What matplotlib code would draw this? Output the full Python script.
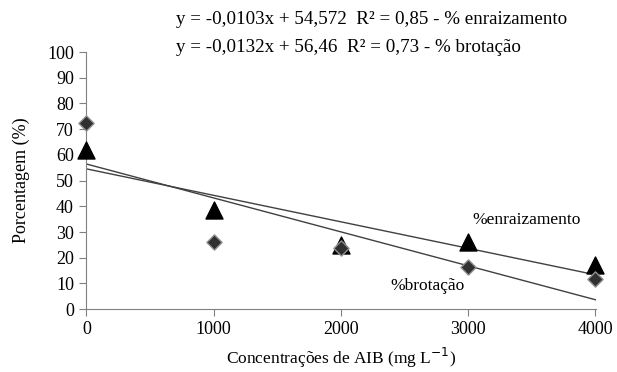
import numpy as np
import matplotlib.pyplot as plt

plt.rcParams['font.family'] = ['Liberation Serif', 'DejaVu Serif']

conc = [0, 1000, 2000, 3000, 4000]
enraizamento = [62, 38.5, 25, 26, 17]
brotacao = [72.5, 26, 23.7, 16.3, 11.7]

# trend line coefficients (slope, intercept)
fit_enr = (-0.0103, 54.572)
fit_brot = (-0.0132, 56.46)

fig = plt.figure(figsize=(6.17, 3.72), dpi=100)
ax = fig.add_axes([0.139, 0.169, 0.827, 0.691])

xl = np.array([conc[0], conc[-1]])
ax.plot(xl, fit_enr[0] * xl + fit_enr[1], color='#404040', lw=1.0, zorder=2)
ax.plot(xl, fit_brot[0] * xl + fit_brot[1], color='#404040', lw=1.0, zorder=2)

ax.scatter(conc, enraizamento, marker='^', s=150, color='black', zorder=3,
           clip_on=False)
ax.scatter(conc, brotacao, marker='D', s=60, color='#303030',
           edgecolors='#909090', linewidths=1.0, zorder=4, clip_on=False)

ax.set_xlim(-5, 4005)
ax.set_ylim(0, 100)
ax.set_xticks(conc)
ax.set_yticks(range(0, 101, 10))
ax.tick_params(direction='out', length=5, color='#808080', labelsize=13)
for s in ['top', 'right']:
    ax.spines[s].set_visible(False)
for s in ['left', 'bottom']:
    ax.spines[s].set_color('#808080')

ax.set_xlabel('Concentrações de AIB (mg L$^{-1}$)', fontsize=12.5, labelpad=6)
ax.set_ylabel('Porcentagem (%)', fontsize=13, labelpad=12)

ax.text(3030, 33, '%enraizamento', fontsize=12.5)
ax.text(2390, 7.5, '%brotação', fontsize=12.5)

fig.text(0.285, 0.935, 'y = -0,0103x + 54,572  R² = 0,85 - % enraizamento', fontsize=13.7)
fig.text(0.285, 0.86, 'y = -0,0132x + 56,46  R² = 0,73 - % brotação', fontsize=13.7)

fig.savefig('out.png', dpi=100)
